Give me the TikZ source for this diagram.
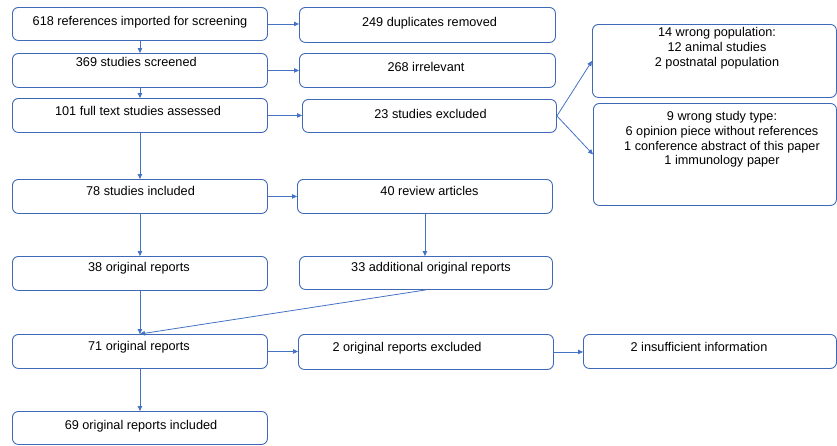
\documentclass[tikz,border=0pt]{standalone}
\usepackage{fontspec}
\setmainfont{Liberation Sans}
\usetikzlibrary{arrows.meta}
\definecolor{bl}{HTML}{4472C4}
\definecolor{bd}{HTML}{3F69B5}
\begin{document}
\begin{tikzpicture}[x=1pt,y=-1pt,
  box/.style={draw=bd, line width=0.9pt, rounded corners=6pt, inner sep=0pt, anchor=north west},
  txt/.style={font=\fontsize{12.7}{14.8}\selectfont, inner sep=0pt, anchor=base, align=center},
  mtxt/.style={txt, anchor=north},
  arr/.style={draw=bl, line width=0.8pt, -{Triangle[length=5pt,width=4.5pt]}}]
\useasboundingbox (0,0) rectangle (837,445);
% boxes
\node[box, minimum width=255pt, minimum height=33pt] (A) at (12,7) {};
\node[box, minimum width=256pt, minimum height=35pt] (B) at (299,7) {};
\node[box, minimum width=255pt, minimum height=34pt] (C) at (12,53) {};
\node[box, minimum width=256pt, minimum height=34pt] (D) at (299,53) {};
\node[box, minimum width=255pt, minimum height=34pt] (E) at (12,98) {};
\node[box, minimum width=254pt, minimum height=33pt] (F) at (302,99) {};
\node[box, minimum width=244pt, minimum height=73pt] (G) at (592,24) {};
\node[box, minimum width=243pt, minimum height=102pt] (H) at (593,103) {};
\node[box, minimum width=255pt, minimum height=34pt] (I) at (12,179) {};
\node[box, minimum width=255pt, minimum height=34pt] (J) at (297,179) {};
\node[box, minimum width=255pt, minimum height=34pt] (K) at (12,256) {};
\node[box, minimum width=253pt, minimum height=33pt] (L) at (299,256) {};
\node[box, minimum width=255pt, minimum height=34pt] (M) at (12,334) {};
\node[box, minimum width=255pt, minimum height=35pt] (N) at (298,334) {};
\node[box, minimum width=253pt, minimum height=34pt] (O) at (583,334) {};
\node[box, minimum width=255pt, minimum height=33pt] (P) at (12,411) {};
% texts
\node[txt] (tA) at (140,25) {618 references imported for screening};
\node[txt] (tB) at (429.5,26) {249 duplicates removed};
\node[txt] (tC) at (136.3,66.7) {369 studies screened};
\node[txt] (tD) at (426,71) {268 irrelevant};
\node[txt] (tE) at (138,115) {101 full text studies assessed};
\node[txt] (tF) at (430.5,118) {23 studies excluded};
\node[mtxt] (tG) at (717,27) {14 wrong population:\\12 animal studies\\2 postnatal population};
\node[mtxt] (tH) at (722,111) {9 wrong study type:\\6 opinion piece without references\\1 conference abstract of this paper\\1 immunology paper};
\node[txt] (tI) at (140.5,195) {78 studies included};
\node[txt] (tJ) at (429.5,195) {40 review articles};
\node[txt] (tK) at (139,271) {38 original reports};
\node[txt] (tL) at (431,271) {33 additional original reports};
\node[txt] (tM) at (139,350) {71 original reports};
\node[txt] (tN) at (407,351) {2 original reports excluded};
\node[txt] (tO) at (699,351) {2 insufficient information};
\node[txt] (tP) at (141,429) {69 original reports included};
% arrows
\draw[arr] (A.east) -- (A.east -| B.west);
\draw[arr] (C.east) -- (C.east -| D.west);
\draw[arr] (E.east) -- (E.east -| F.west);
\draw[arr] (F.east) -- (G.west);
\draw[arr] (F.east) -- (H.west);
\draw[arr] (A.south) -- (A.south |- C.north);
\draw[arr] (C.south) -- (C.south |- E.north);
\draw[arr] (E.south) -- (E.south |- I.north);
\draw[arr] (I.east) -- (I.east -| J.west);
\draw[arr] (I.south) -- (I.south |- K.north);
\draw[arr] (J.south) -- (J.south |- L.north);
\draw[arr] (K.south) -- (K.south |- M.north);
\draw[arr] (L.south) -- (M.north);
\draw[arr] (M.east) -- (M.east -| N.west);
\draw[arr] (N.east) -- (N.east -| O.west);
\draw[arr] (M.south) -- (M.south |- P.north);
\end{tikzpicture}
\end{document}
